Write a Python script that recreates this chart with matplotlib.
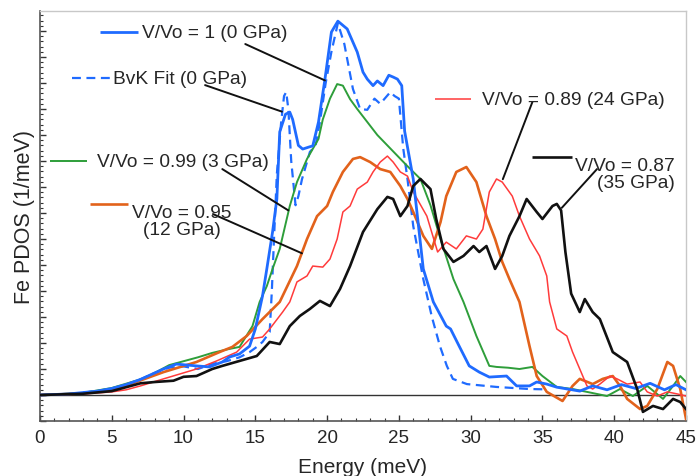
import matplotlib
matplotlib.use("Agg")
import matplotlib.pyplot as plt
from matplotlib.ticker import MultipleLocator, NullFormatter

plt.rcParams['font.family'] = ['Liberation Sans', 'DejaVu Sans']

# Fe partial phonon DOS (arbitrary units, 1 unit = one major y tick)
e_v100 = [0, 2, 4, 5, 6, 7, 8, 8.6, 9.5, 10.9, 11.8, 12.7, 13.2, 13.9, 14.6, 15.0, 15.5,
          15.8, 16.2, 16.5, 16.7, 17.1, 17.4, 17.6, 18.0, 18.3, 18.8, 19.0, 19.4, 19.85,
          20.3, 20.75, 21.4, 22.1, 22.5, 22.8, 23.2, 23.5, 23.9, 24.3, 24.6, 24.9, 25.2,
          25.4, 26.0, 26.7, 27.4, 28.3, 28.6, 29.2, 29.9, 30.6, 31.3, 32.5, 33.2, 34.1,
          34.6, 35.3, 36.0, 37.6, 38.5, 39.5, 40.5, 41.5, 42.5, 43.5, 44.3, 45]
d_v100 = [0, 0.04, 0.15, 0.25, 0.4, 0.6, 0.85, 1.0, 1.19, 1.12, 1.08, 1.27, 1.46, 1.58,
          1.88, 2.54, 3.81, 4.85, 6.27, 7.54, 10.12, 10.8, 10.88, 10.6, 9.6, 9.46, 9.55,
          9.58, 10.5, 12.15, 13.96, 14.38, 14.08, 13.19, 12.42, 12.15, 11.9, 12.08, 11.9,
          12.3, 12.23, 12.15, 11.9, 10.15, 8.31, 4.85, 3.58, 2.65, 2.54, 1.88, 1.12, 0.88,
          0.69, 0.73, 0.35, 0.35, 0.5, 0.42, 0.3, 0.15, 0.35, 0.2, 0.4, 0.25, 0.45, 0.2,
          0.4, 0.2]

e_bvk = [0, 2, 4, 5, 6, 7, 8, 9, 10, 11, 12, 13, 13.9, 14.6, 15.1, 15.5, 16.0, 16.15,
         16.3, 16.5, 16.8, 17.0, 17.15, 17.3, 17.5, 17.8, 18.0, 18.25, 18.8, 19.2, 19.5,
         19.9, 20.3, 20.75, 21.2, 21.8, 22.3, 22.8, 23.3, 23.7, 24.4, 24.7, 25.0, 25.3,
         25.6, 26.0, 26.7, 27.3, 27.86, 28.34, 28.76, 29.74, 31.8, 34.1, 35.0]
d_bvk = [0, 0.04, 0.15, 0.25, 0.4, 0.6, 0.85, 1.05, 1.1, 1.0, 1.2, 1.3, 1.45, 1.65, 1.85,
         2.04, 2.42, 4.0, 6.0, 8.5, 10.5, 11.5, 11.65, 11.0, 9.0, 7.3, 7.65, 8.3, 9.35,
         9.6, 10.5, 12.0, 13.2, 14.3, 13.5, 11.77, 11.0, 10.97, 11.4, 11.2, 11.65, 11.5,
         11.4, 9.5, 8.3, 6.5, 4.46, 3.0, 1.88, 1.12, 0.62, 0.42, 0.31, 0.23, 0.22]

e_v099 = [0, 3, 5, 7, 8, 9, 10, 11, 12, 13, 13.9, 14.8, 15.3, 15.8, 16.2, 16.7, 17.4,
          17.9, 18.6, 19.4, 19.7, 20.2, 20.7, 21.1, 21.6, 22.1, 22.8, 23.5, 24.2, 24.9,
          25.6, 26.5, 27.2, 27.9, 28.8, 29.5, 30.4, 31.3, 31.8, 32.6, 33.4, 34.3, 35.0,
          36.0, 37.1, 38.1, 39.5, 40.4, 41.3, 42.3, 43.4, 44.1, 44.6, 45]
d_v099 = [0, 0.08, 0.27, 0.6, 0.85, 1.15, 1.3, 1.45, 1.62, 1.75, 1.85, 2.65, 3.58, 4.19,
          4.85, 5.62, 7.27, 8.19, 9.08, 9.85, 10.6, 11.4, 11.96, 11.9, 11.38, 11.0, 10.5,
          10.0, 9.6, 9.2, 8.8, 8.31, 7.3, 6.0, 4.46, 3.58, 2.27, 1.12, 1.08, 1.05, 1.0,
          1.08, 0.73, 0.31, 0.23, 0.12, -0.04, 0.23, -0.04, 0.35, -0.15, 0.35, 0.73, 0.5]

e_v095 = [0, 3, 5, 6.3, 8.6, 10.9, 12.5, 13.4, 14.4, 15.5, 16.7, 17.9, 18.6, 19.3, 20.0,
          20.4, 21.1, 21.8, 22.3, 23.0, 23.7, 24.4, 25.1, 25.6, 26.0, 26.7, 27.3, 27.9,
          28.3, 29.0, 29.7, 30.4, 31.1, 31.7, 32.2, 32.7, 33.4, 34.1, 34.6, 35.3, 36.4,
          37.1, 37.6, 38.5, 39.2, 39.9, 40.4, 40.9, 41.8, 42.3, 43.0, 43.7, 44.1, 44.6, 45]
d_v095 = [0, 0.06, 0.2, 0.42, 0.88, 1.27, 1.65, 1.85, 2.27, 2.92, 3.58, 4.96, 6.0, 6.88,
          7.27, 7.81, 8.58, 9.08, 9.15, 8.96, 8.69, 8.58, 8.04, 7.54, 7.04, 6.12, 5.62,
          6.65, 7.65, 8.58, 8.77, 8.19, 6.88, 6.0, 5.12, 4.46, 3.58, 1.88, 0.73, 0.12,
          -0.23, 0.35, 0.62, 0.42, 0.62, 0.73, 0.35, -0.15, -0.54, -0.42, 0.23, 1.27, 1.12,
          0.23, -0.92]

e_v089 = [0, 3, 5, 6, 7, 8.6, 10.9, 12.3, 13.7, 14.6, 15.5, 16.0, 16.9, 17.4, 17.9, 18.6,
          19.0, 19.7, 20.2, 20.7, 21.1, 21.6, 22.1, 22.8, 23.2, 23.7, 24.2, 24.6, 25.1,
          25.6, 26.0, 26.95, 27.7, 28.3, 29.0, 29.7, 30.4, 30.85, 31.3, 31.8, 32.2, 32.9,
          33.4, 34.1, 34.8, 35.3, 35.5, 36.0, 36.7, 37.1, 37.6, 38.1, 38.5, 39.0, 39.7,
          40.2, 40.9, 41.8, 42.3, 43.0, 43.7, 44.4, 45]
d_v089 = [0, 0.04, 0.12, 0.2, 0.35, 0.62, 1.0, 1.31, 1.65, 2.15, 2.23, 2.54, 3.19, 3.58,
          4.35, 4.58, 4.96, 4.92, 5.23, 6.0, 7.04, 7.27, 7.92, 8.19, 8.58, 8.96, 9.19,
          8.96, 8.58, 8.42, 7.81, 6.88, 5.5, 5.88, 5.62, 6.12, 6.0, 6.38, 7.81, 8.31,
          8.19, 7.65, 6.88, 6.0, 5.35, 4.58, 3.58, 2.54, 2.27, 1.65, 1.0, 0.35, 0.23, 0.42,
          0.73, 0.62, 0.42, 0.5, 0.12, -0.04, 0.12, 0.04, -0.04]

e_v087 = [0, 3, 5, 6, 7, 8, 9.3, 10, 10.9, 12.0, 12.7, 13.9, 15.1, 16.0, 16.7, 17.4, 18.1,
          18.8, 19.5, 20.2, 20.9, 21.6, 22.5, 23.5, 24.2, 24.6, 25.1, 25.6, 26.0, 26.5,
          27.2, 27.6, 28.1, 28.8, 29.5, 30.2, 30.6, 31.1, 31.7, 32.2, 32.7, 33.4, 33.9,
          34.6, 35.0, 35.7, 36.0, 36.3, 36.6, 37.0, 37.6, 37.95, 38.5, 39.0, 39.9, 40.9,
          41.6, 42.0, 42.7, 43.4, 44.1, 44.6, 45]
d_v087 = [0, 0.05, 0.15, 0.3, 0.45, 0.5, 0.55, 0.7, 0.73, 1.0, 1.12, 1.31, 1.5, 2.04,
          1.96, 2.65, 3.04, 3.31, 3.62, 3.42, 4.08, 4.96, 6.27, 7.15, 7.62, 7.54, 6.88,
          7.27, 8.04, 8.31, 7.92, 6.77, 5.62, 5.12, 5.35, 5.73, 5.5, 5.73, 4.85, 5.35,
          6.12, 6.88, 7.54, 7.04, 6.77, 7.27, 7.35, 7.1, 5.5, 3.9, 3.19, 3.69, 3.19, 2.92,
          1.65, 1.27, 0.23, -0.65, -0.42, -0.54, -0.15, -0.27, -0.54]

BLUE = '#1f6bff'
GREEN = '#2e9e3a'
ORANGE = '#e2621b'
RED = '#ff3b3b'
BLACK = '#111111'
TEXT = '#262626'

fig = plt.figure(figsize=(6.98, 4.77), dpi=100)
ax = fig.add_axes([0.0573, 0.1153, 0.9255, 0.8595])

ax.axhline(0, color='#333333', lw=1.0, zorder=1)

ax.plot(e_bvk, d_bvk, color=BLUE, lw=1.6, ls=(0, (4, 2.5)), zorder=3)
ax.plot(e_v100, d_v100, color=BLUE, lw=2.0, zorder=4)
ax.plot(e_v099, d_v099, color=GREEN, lw=1.4, zorder=3)
ax.plot(e_v095, d_v095, color=ORANGE, lw=1.9, zorder=3)
ax.plot(e_v089, d_v089, color=RED, lw=1.1, zorder=3)
ax.plot(e_v087, d_v087, color=BLACK, lw=1.9, zorder=5)

ax.set_xlim(0, 45)
ax.set_ylim(-1, 14.77)
ax.xaxis.set_major_locator(MultipleLocator(5))
ax.xaxis.set_minor_locator(MultipleLocator(1))
ax.yaxis.set_major_locator(MultipleLocator(1))
ax.yaxis.set_minor_locator(MultipleLocator(0.2))
ax.yaxis.set_major_formatter(NullFormatter())
ax.tick_params(which='both', direction='in', top=False, right=False, colors='#333333')
ax.tick_params(which='major', length=4, width=1.0, labelsize=13.5, labelcolor=TEXT, pad=6)
ax.tick_params(which='minor', length=2.5, width=0.8)
for side in ('left', 'bottom'):
    ax.spines[side].set_color('#555555')
    ax.spines[side].set_linewidth(1.2)
for side in ('top', 'right'):
    ax.spines[side].set_color('#c8c8c8')
    ax.spines[side].set_linewidth(1.0)

ax.set_xlabel('Energy (meV)', fontsize=15, color=TEXT, labelpad=8)
ax.set_ylabel('Fe PDOS (1/meV)', fontsize=15.5, color=TEXT, labelpad=-2.5)

# labels: (sample line start, end), text anchor, leader line from -> to
labels = [
    ('V/Vo = 1 (0 GPa)', BLUE, '-', 2.0, (4.2, 6.8, 13.96), (7.1, 13.96), (14.3, 13.5), (19.85, 12.1)),
    ('BvK Fit (0 GPa)', BLUE, (0, (4, 2.5)), 1.6, (2.2, 4.9, 12.19), (5.1, 12.19), (11.5, 11.92), (16.85, 10.9)),
    ('V/Vo = 0.99 (3 GPa)', GREEN, '-', 1.4, (0.7, 3.3, 9.0), (4.0, 9.0), (12.7, 8.69), (17.3, 7.1)),
    ('V/Vo = 0.95\n(12 GPa)', ORANGE, '-', 1.9, (3.5, 6.1, 7.35), (6.4, 7.35), (12.05, 6.96), (18.25, 5.45)),
    ('V/Vo = 0.89 (24 GPa)', RED, '-', 1.1, (27.5, 30.0, 11.38), (30.8, 11.38), (34.3, 11.27), (32.24, 8.3)),
    ('V/Vo = 0.87\n(35 GPa)', BLACK, '-', 1.9, (34.3, 37.05, 9.15), (37.25, 9.15), (38.8, 8.69), (36.35, 7.2)),
]
for text, col, ls, lw, sample, anchor, p0, p1 in labels:
    ax.plot([sample[0], sample[1]], [sample[2], sample[2]], color=col, ls=ls, lw=lw,
            solid_capstyle='butt', zorder=6)
    multi = 'right' if '0.87' in text else 'center'
    ax.text(anchor[0], anchor[1], text, fontsize=13.8, color=TEXT, ha='left', va='top' if '\n' in text else 'center',
            multialignment=multi, linespacing=1.0, zorder=7)
    ax.annotate('', xy=p1, xytext=p0,
                arrowprops=dict(arrowstyle='-', color='#111111', lw=1.4, shrinkA=0, shrinkB=0), zorder=6)

fig.savefig('out.png', dpi=100)
